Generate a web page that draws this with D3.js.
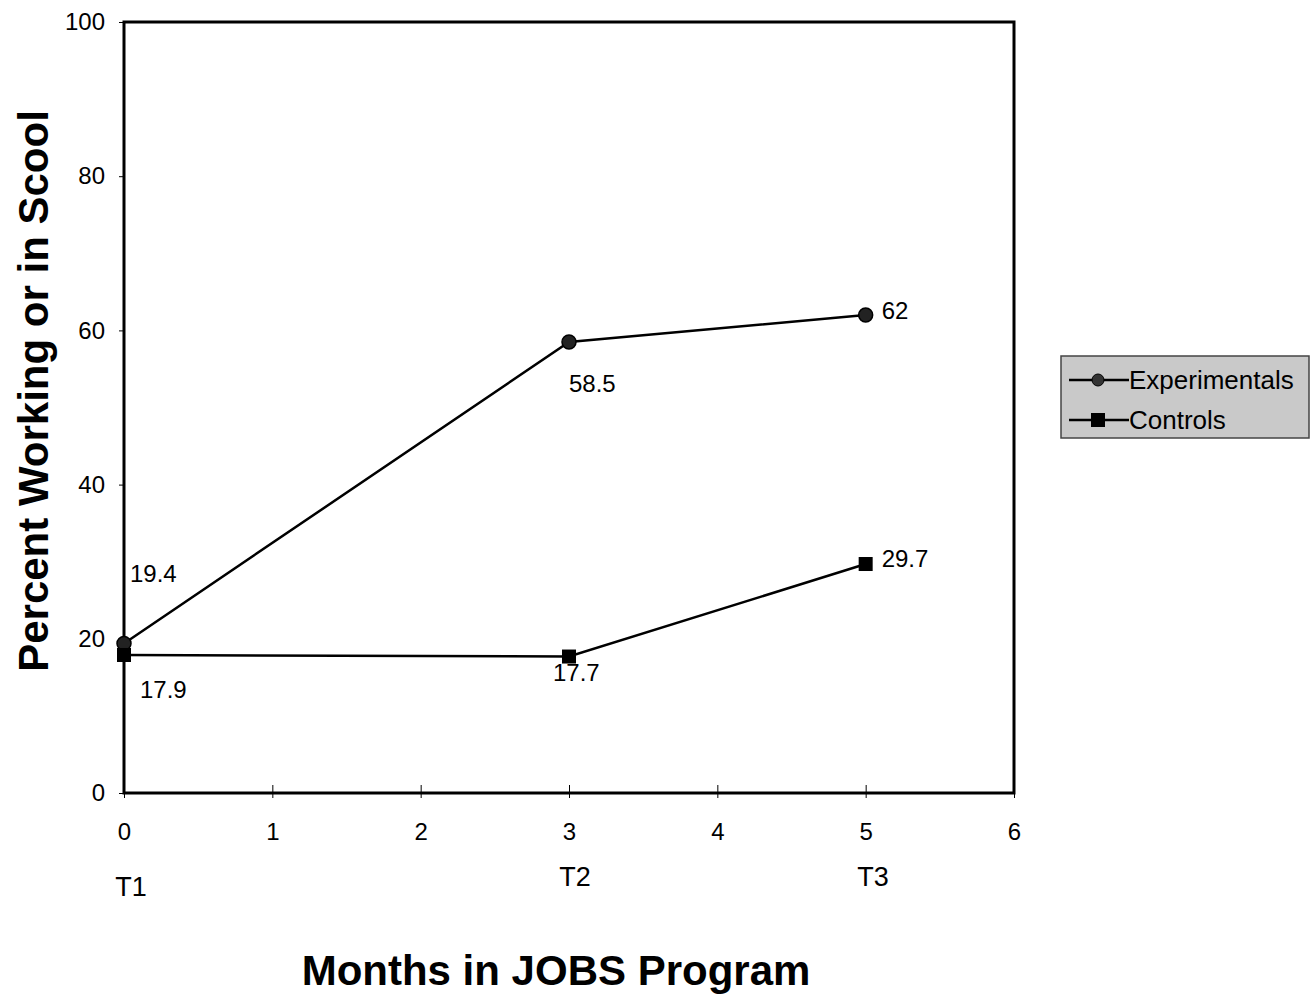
<!DOCTYPE html>
<html><head><meta charset="utf-8">
<script src="https://cdn.jsdelivr.net/npm/d3@7"></script>
<style>body{margin:0;background:#fff}svg{display:block}</style>
</head><body>
<svg id="c" width="1314" height="996"></svg>
<script>
const months = [0, 3, 5];
const periods = ["T1", "T2", "T3"];
const experimentals = [19.4, 58.5, 62];
const controls = [17.9, 17.7, 29.7];
const xTicks = [0, 1, 2, 3, 4, 5, 6];
const yTicks = [0, 20, 40, 60, 80, 100];
const seriesNames = ["Experimentals", "Controls"];

const svg = d3.select("#c");
const L = 124, R = 1014, T = 22, B = 793;
const x = d3.scaleLinear().domain([0, 6]).range([L, R]);
const y = d3.scaleLinear().domain([0, 100]).range([B, T]);
const font = "Liberation Sans, Arial, sans-serif";

// frame
svg.append("rect").attr("x", L).attr("y", T).attr("width", R - L).attr("height", B - T)
  .attr("fill", "none").attr("stroke", "#000").attr("stroke-width", 3);

// axes
const xa = svg.append("g").attr("transform", `translate(0,${B})`)
  .call(d3.axisBottom(x).tickValues(xTicks).tickFormat(d3.format("d")).tickSizeInner(-8).tickSizeOuter(0).tickPadding(30));
xa.select(".domain").remove();
xa.selectAll(".tick line").attr("y2", -8).attr("y1", 5).attr("stroke", "#000");
xa.selectAll(".tick text").attr("font-family", font).attr("font-size", 24).attr("fill", "#000");

const ya = svg.append("g").attr("transform", `translate(${L},0)`)
  .call(d3.axisLeft(y).tickValues(yTicks).tickSize(5).tickSizeOuter(0).tickPadding(14));
ya.select(".domain").remove();
ya.selectAll(".tick line").attr("stroke", "#000");
ya.selectAll(".tick text").attr("font-family", font).attr("font-size", 24).attr("fill", "#000");

// period labels
const perX = [131, 575, 873];
svg.append("g").selectAll("text").data(months).join("text")
  .attr("x", (d, i) => perX[i]).attr("y", (d, i) => i === 0 ? 896 : 886)
  .attr("text-anchor", "middle").attr("font-family", font).attr("font-size", 27)
  .text((d, i) => periods[i]);

// lines
const line = d3.line().x((d, i) => x(months[i])).y(d => y(d));
svg.append("path").datum(experimentals).attr("d", line).attr("fill", "none").attr("stroke", "#000").attr("stroke-width", 2.5);
svg.append("path").datum(controls).attr("d", line).attr("fill", "none").attr("stroke", "#000").attr("stroke-width", 2.5);

// markers
svg.append("g").selectAll("circle").data(experimentals).join("circle")
  .attr("cx", (d, i) => x(months[i])).attr("cy", d => y(d)).attr("r", 7)
  .attr("fill", "#222").attr("stroke", "#000").attr("stroke-width", 1.5);
svg.append("g").selectAll("rect").data(controls).join("rect")
  .attr("x", (d, i) => x(months[i]) - 7).attr("y", d => y(d) - 7).attr("width", 14).attr("height", 14)
  .attr("fill", "#000");

// data labels
const expOff = [[6, -61], [0, 50], [16, 4]];
const conOff = [[16, 43], [-16, 24], [16, 3]];
svg.append("g").selectAll("text").data(experimentals).join("text")
  .attr("x", (d, i) => x(months[i]) + expOff[i][0]).attr("y", (d, i) => y(d) + expOff[i][1])
  .attr("font-family", font).attr("font-size", 24).text(d => d);
svg.append("g").selectAll("text").data(controls).join("text")
  .attr("x", (d, i) => x(months[i]) + conOff[i][0]).attr("y", (d, i) => y(d) + conOff[i][1])
  .attr("font-family", font).attr("font-size", 24).text(d => d);

// axis titles
svg.append("text").attr("transform", "translate(48,391) rotate(-90)").attr("text-anchor", "middle")
  .attr("font-family", font).attr("font-weight", "bold").attr("font-size", 42).text("Percent Working or in Scool");
svg.append("text").attr("x", 556).attr("y", 985).attr("text-anchor", "middle")
  .attr("font-family", font).attr("font-weight", "bold").attr("font-size", 42).text("Months in JOBS Program");

// legend
const lg = svg.append("g").attr("transform", "translate(1061,356)");
lg.append("rect").attr("width", 248).attr("height", 82).attr("fill", "#c9c9c9").attr("stroke", "#444").attr("stroke-width", 1.5);
seriesNames.forEach((n, i) => {
  const cy = 24 + i * 40;
  lg.append("line").attr("x1", 8).attr("x2", 68).attr("y1", cy).attr("y2", cy).attr("stroke", "#000").attr("stroke-width", 2.5);
  if (i === 0) lg.append("circle").attr("cx", 37).attr("cy", cy).attr("r", 6).attr("fill", "#333").attr("stroke", "#000");
  else lg.append("rect").attr("x", 30).attr("y", cy - 7).attr("width", 14).attr("height", 14).attr("fill", "#000");
  lg.append("text").attr("x", 68).attr("y", cy + 9).attr("font-family", font).attr("font-size", 26).text(n);
});
</script>
</body></html>
